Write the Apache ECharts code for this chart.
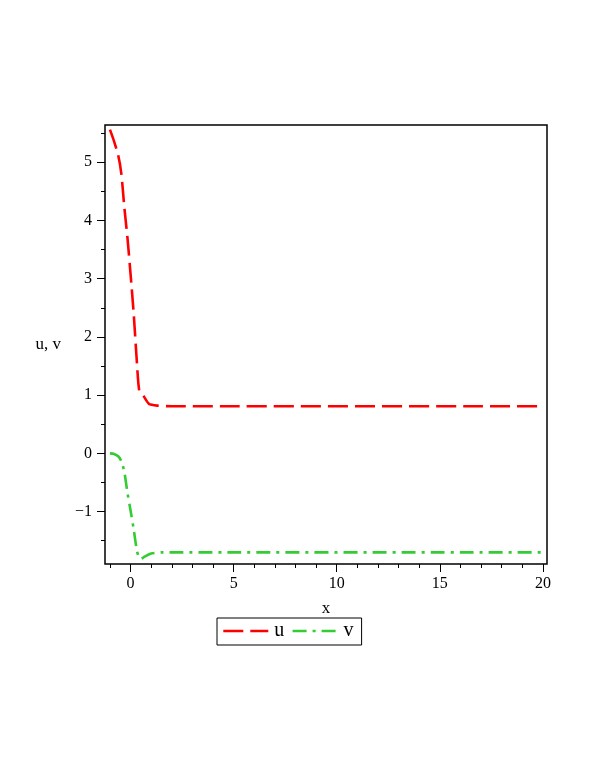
<!DOCTYPE html>
<html>
<head>
<meta charset="utf-8">
<script src="https://cdn.jsdelivr.net/npm/echarts@6/dist/echarts.min.js"></script>
<style>
html,body{margin:0;padding:0;background:#fff;}
#chart{width:595px;height:770px;}
</style>
</head>
<body>
<div id="chart"></div>
<script>
// ---- data ----
const uX = [-1, -0.8, -0.6, -0.45, -0.3, -0.15, 0, 0.15, 0.3, 0.42, 0.62, 0.89, 1.3, 2, 20];
const uY = [5.56, 5.36, 5.12, 4.81, 4.22, 3.70, 3.08, 2.41, 1.60, 1.08, 0.99, 0.85, 0.82, 0.81, 0.81];
const vX = [-1, -0.8, -0.6, -0.45, -0.3, -0.15, 0, 0.15, 0.3, 0.4, 0.5, 0.7, 1.0, 1.5, 2, 20];
const vY = [0, -0.01, -0.05, -0.13, -0.32, -0.68, -0.98, -1.3, -1.66, -1.78, -1.81, -1.77, -1.72, -1.70, -1.70, -1.70];
const xMajorTicks = [0, 5, 10, 15, 20];
const xMinorTicks = [-1, 1, 2, 3, 4, 6, 7, 8, 9, 11, 12, 13, 14, 16, 17, 18, 19];
const yMajorTicks = [-1, 0, 1, 2, 3, 4, 5];
const yMinorTicks = [-1.5, -0.5, 0.5, 1.5, 2.5, 3.5, 4.5, 5.5];
const seriesNames = ['u', 'v'];
const xName = 'x';
const yName = 'u, v';
const xRange = [-1.24, 20.2];
const yRange = [-1.9, 5.64];

const font = 'Liberation Serif';
const pairs = (xs, ys) => xs.map((x, i) => [x, ys[i]]);
const fmt = v => String(v).replace('-', '\u2212');
const uColor = '#ff0000', vColor = '#33cc33';
const uDash = [20, 7], vDash = [14, 6, 3, 6];

const chart = echarts.init(document.getElementById('chart'));
chart.setOption({
  animation: false,
  backgroundColor: '#fff',
  grid: {
    left: 105, top: 125, right: 48, bottom: 206,
    show: true, borderColor: '#000', borderWidth: 1.5, backgroundColor: 'transparent'
  },
  legend: {
    data: [
      { name: seriesNames[0], itemStyle: { color: 'transparent', borderWidth: 0 },
        lineStyle: { color: uColor, width: 2.6, type: uDash } },
      { name: seriesNames[1], itemStyle: { color: 'transparent', borderWidth: 0 },
        lineStyle: { color: vColor, width: 2.6, type: vDash } }
    ],
    left: 217, top: 618,
    orient: 'horizontal',
    borderColor: '#000', borderWidth: 1,
    padding: [3, 8, 4, 5],
    itemWidth: 45, itemHeight: 20, itemGap: 7,
    textStyle: { fontFamily: font, fontSize: 20, color: '#000', padding: [0, 0, 0, 1] }
  },
  xAxis: [
    {
      type: 'value', min: xRange[0], max: xRange[1], position: 'bottom',
      name: xName, nameLocation: 'middle', nameGap: 36,
      nameTextStyle: { fontFamily: font, fontSize: 17, color: '#000' },
      axisLine: { show: false, onZero: false },
      splitLine: { show: false },
      axisTick: { show: true, length: 8, customValues: xMajorTicks, lineStyle: { color: '#000', width: 1 } },
      axisLabel: { show: true, customValues: xMajorTicks, formatter: fmt, margin: 12,
        fontFamily: font, fontSize: 16, color: '#000' }
    },
    {
      type: 'value', min: xRange[0], max: xRange[1], position: 'bottom', offset: 0,
      axisLine: { show: false, onZero: false }, splitLine: { show: false },
      axisTick: { show: true, length: 4, customValues: xMinorTicks, lineStyle: { color: '#000', width: 1 } },
      axisLabel: { show: false }
    }
  ],
  yAxis: [
    {
      type: 'value', min: yRange[0], max: yRange[1], position: 'left',
      name: yName, nameLocation: 'middle', nameRotate: 0, nameGap: 44,
      nameTextStyle: { fontFamily: font, fontSize: 17, color: '#000', padding: [7, 0, 0, 0] },
      axisLine: { show: false, onZero: false },
      splitLine: { show: false },
      axisTick: { show: true, length: 8, customValues: yMajorTicks, lineStyle: { color: '#000', width: 1 } },
      axisLabel: { show: true, customValues: yMajorTicks, formatter: fmt, margin: 13,
        fontFamily: font, fontSize: 16, color: '#000' }
    },
    {
      type: 'value', min: yRange[0], max: yRange[1], position: 'left', offset: 0,
      axisLine: { show: false, onZero: false }, splitLine: { show: false },
      axisTick: { show: true, length: 4, customValues: yMinorTicks, lineStyle: { color: '#000', width: 1 } },
      axisLabel: { show: false }
    }
  ],
  series: [
    {
      name: seriesNames[0], type: 'line', xAxisIndex: 0, yAxisIndex: 0,
      data: pairs(uX, uY), symbol: 'none', smooth: 0.2,
      lineStyle: { color: uColor, width: 2.6, type: uDash },
      itemStyle: { color: uColor }
    },
    {
      name: seriesNames[1], type: 'line', xAxisIndex: 0, yAxisIndex: 0,
      data: pairs(vX, vY), symbol: 'none', smooth: 0.2,
      lineStyle: { color: vColor, width: 2.6, type: vDash },
      itemStyle: { color: vColor }
    }
  ]
});
</script>
</body>
</html>
